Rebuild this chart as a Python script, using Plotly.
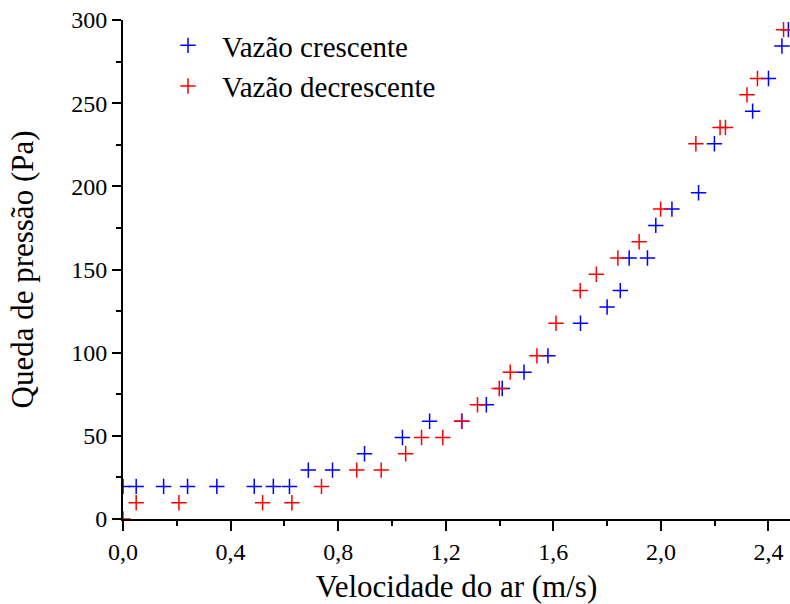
import plotly.graph_objects as go

# Vazão crescente (blue)
v_cres = [0.0, 0.049, 0.151, 0.240, 0.349, 0.488, 0.559, 0.619, 0.689, 0.779,
          0.898, 1.039, 1.140, 1.260, 1.351, 1.410, 1.491, 1.580, 1.701, 1.800,
          1.849, 1.882, 1.950, 1.981, 2.041, 2.140, 2.199, 2.341, 2.400, 2.450, 2.474]
p_cres = [19.6, 19.6, 19.6, 19.6, 19.6, 19.6, 19.6, 19.6, 29.4, 29.4,
          39.2, 49.0, 58.8, 58.8, 68.7, 78.5, 88.3, 98.1, 117.7, 127.5,
          137.3, 156.9, 156.9, 176.5, 186.3, 196.1, 225.6, 245.2, 264.8, 284.4, 294.2]

# Vazão decrescente (red)
v_decr = [0.0, 0.049, 0.208, 0.519, 0.628, 0.738, 0.869, 0.960, 1.051, 1.110,
          1.189, 1.259, 1.318, 1.399, 1.440, 1.539, 1.610, 1.700, 1.760, 1.840,
          1.919, 1.999, 2.130, 2.220, 2.240, 2.320, 2.359, 2.456]
p_decr = [0.0, 9.8, 9.8, 9.8, 9.8, 19.6, 29.4, 29.4, 39.2, 49.0,
          49.0, 58.8, 68.7, 78.5, 88.3, 98.1, 117.7, 137.3, 147.1, 156.9,
          166.7, 186.3, 225.6, 235.4, 235.4, 255.0, 264.8, 294.2]

x_tickvals = [0.0, 0.4, 0.8, 1.2, 1.6, 2.0, 2.4]
x_ticktext = ["0,0", "0,4", "0,8", "1,2", "1,6", "2,0", "2,4"]
y_tickvals = [0, 50, 100, 150, 200, 250, 300]
y_ticktext = ["0", "50", "100", "150", "200", "250", "300"]

FONT = "'Liberation Serif', 'Times New Roman', serif"

fig = go.Figure()
fig.add_trace(go.Scatter(
    x=v_cres, y=p_cres, mode="markers", name="Vazão crescente",
    marker=dict(symbol="cross-thin", size=11, color="#0000FF",
                line=dict(color="#0000FF", width=1.5)),
))
fig.add_trace(go.Scatter(
    x=v_decr, y=p_decr, mode="markers", name="Vazão decrescente",
    marker=dict(symbol="cross-thin", size=11, color="#FF0000",
                line=dict(color="#FF0000", width=1.5)),
))

fig.update_layout(
    width=790, height=604,
    margin=dict(l=123, r=0, t=20, b=85),
    paper_bgcolor="white", plot_bgcolor="white",
    font=dict(family=FONT, color="black", size=24),
    showlegend=True,
    legend=dict(x=0.0465, y=1.0, xanchor="left", yanchor="top",
                bgcolor="rgba(0,0,0,0)", font=dict(size=29, family=FONT, color="black"),
                tracegroupgap=0, itemsizing="trace", itemwidth=58),
    xaxis=dict(
        range=[0, 2.48], showgrid=False, zeroline=False,
        showline=True, linecolor="black", linewidth=2,
        ticks="outside", ticklen=10, tickwidth=2, tickcolor="black",
        tickvals=x_tickvals, ticktext=x_ticktext,
        tickfont=dict(size=24, family=FONT, color="black"),
        minor=dict(dtick=0.2, tick0=0, ticks="outside", ticklen=5,
                   tickwidth=2, tickcolor="black", showgrid=False),
        title=dict(text="Velocidade do ar (m/s)", font=dict(size=31, family=FONT),
                   standoff=12),
    ),
    yaxis=dict(
        range=[0, 300], showgrid=False, zeroline=False,
        showline=True, linecolor="black", linewidth=2,
        ticks="outside", ticklen=9, tickwidth=2, tickcolor="black",
        tickvals=y_tickvals, ticktext=y_ticktext,
        tickfont=dict(size=24, family=FONT, color="black"),
        minor=dict(dtick=25, tick0=0, ticks="outside", ticklen=5,
                   tickwidth=2, tickcolor="black", showgrid=False),
        title=dict(text="Queda de pressão (Pa)", font=dict(size=31, family=FONT),
                   standoff=28),
    ),
)

fig.write_html("out.html")
